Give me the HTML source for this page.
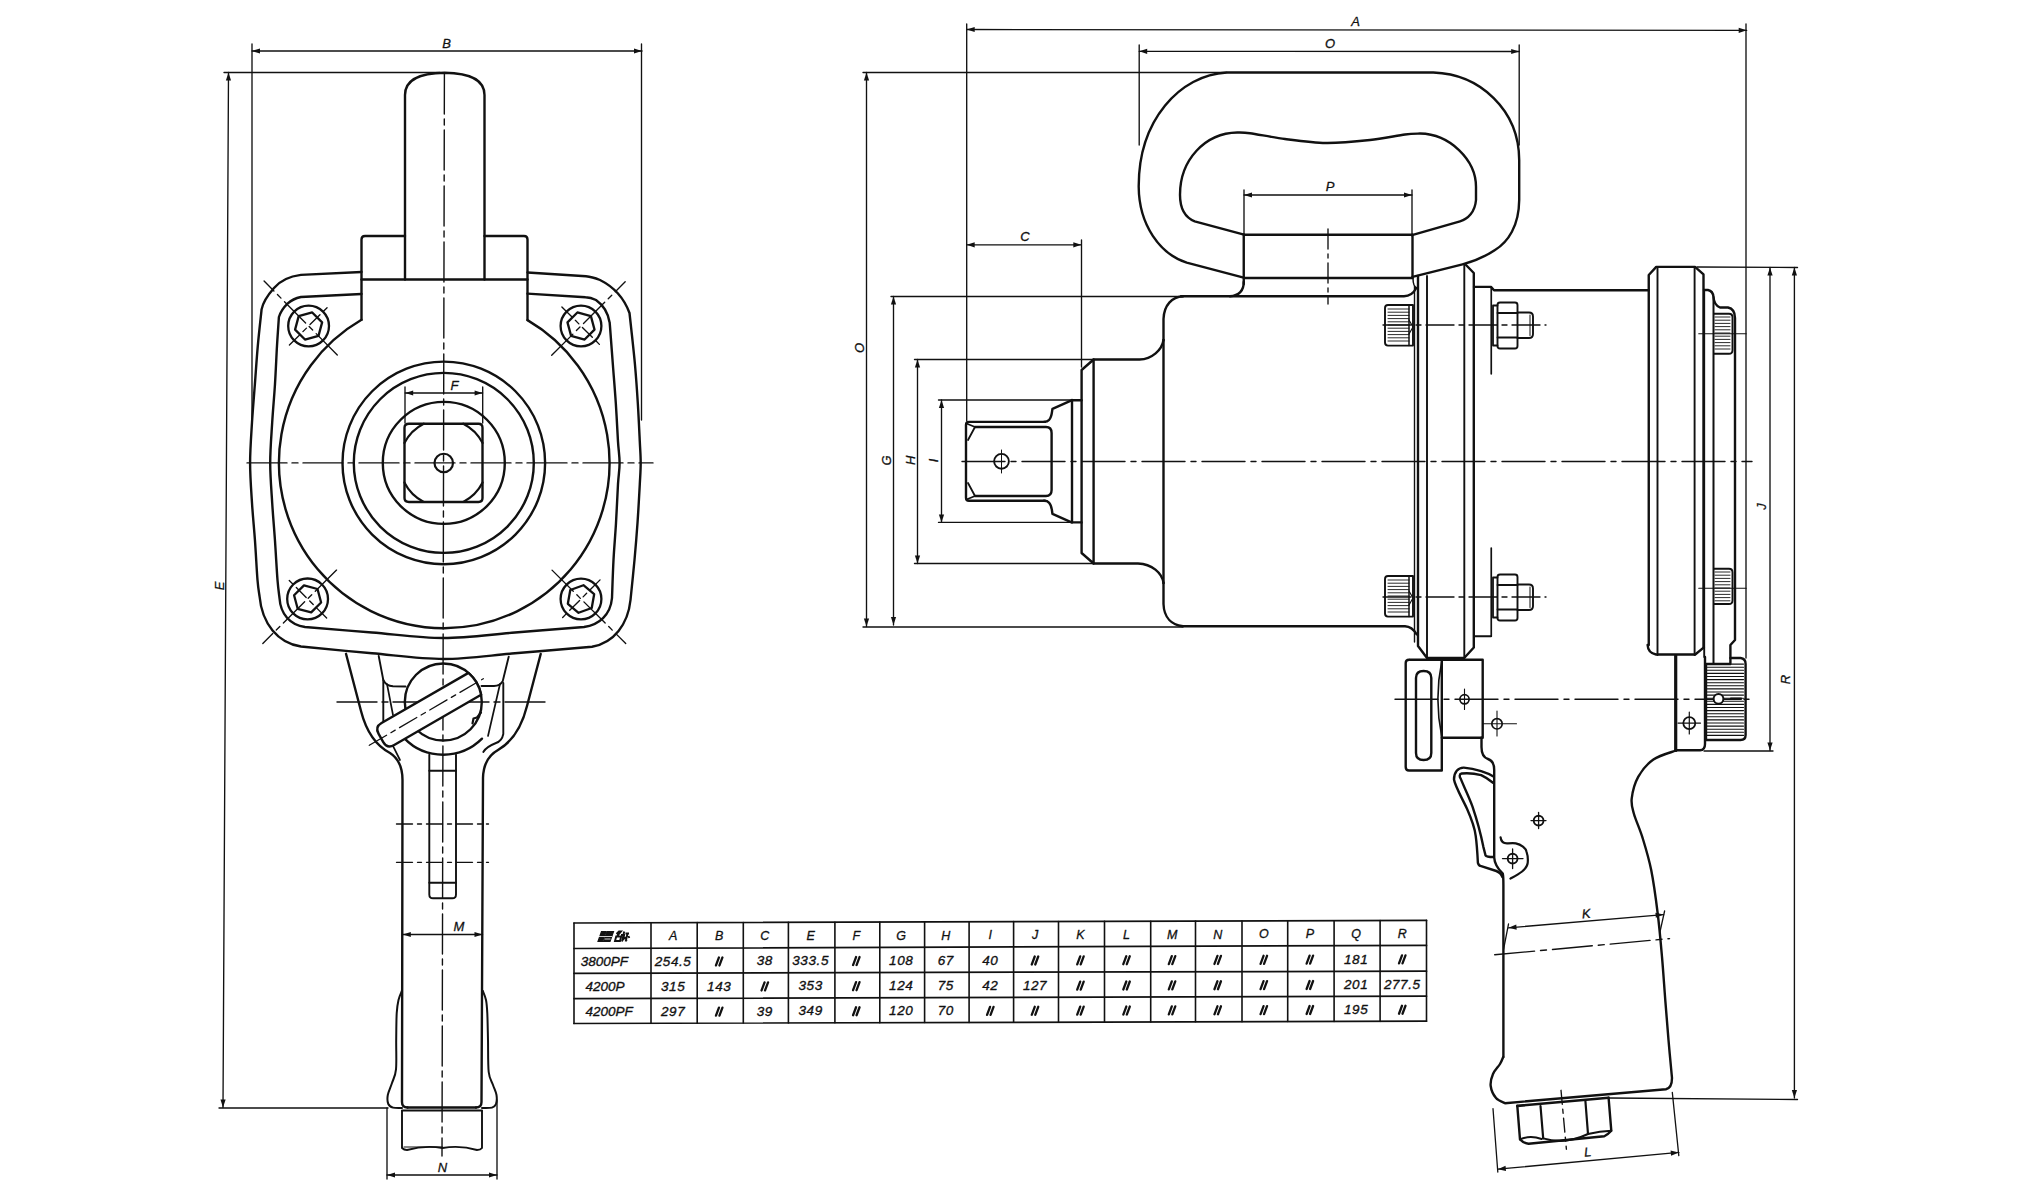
<!DOCTYPE html>
<html><head><meta charset="utf-8"><style>
html,body{margin:0;padding:0;background:#fff;width:2036px;height:1200px;overflow:hidden}
svg{display:block}
text{font-family:"Liberation Sans",sans-serif;font-style:italic;fill:#111}
</style></head><body>
<svg width="2036" height="1200" viewBox="0 0 2036 1200" fill="none" stroke="#111" stroke-linecap="round" stroke-linejoin="round">
<line x1="252" y1="51" x2="642" y2="51" stroke-width="1.35"/>
<path d="M642,51 L634,53.6 L634,48.4 Z" fill="#111" stroke="none"/>
<path d="M252,51 L260,48.4 L260,53.6 Z" fill="#111" stroke="none"/>
<text x="446.5" y="47.7" font-size="13" text-anchor="middle" stroke="#111" stroke-width="0.3">B</text>
<line x1="252" y1="44" x2="252" y2="425" stroke-width="1.35"/>
<line x1="641.5" y1="44" x2="641.5" y2="420" stroke-width="1.35"/>
<line x1="228.5" y1="72.5" x2="223" y2="1107.5" stroke-width="1.35"/>
<path d="M223,1107.5 L220.44,1099.49 L225.64,1099.51 Z" fill="#111" stroke="none"/>
<path d="M228.5,72.5 L231.06,80.51 L225.86,80.49 Z" fill="#111" stroke="none"/>
<line x1="224" y1="72.5" x2="440" y2="72.5" stroke-width="1.35"/>
<line x1="219" y1="1108" x2="388" y2="1108" stroke-width="1.35"/>
<text x="223.5" y="586" font-size="13" text-anchor="middle" transform="rotate(-90 223.5 586)" stroke="#111" stroke-width="0.3">E</text>
<path d="M405,279.5 V95 C405,80 418,73 444.6,72.7 C471,73 484.5,80 484.5,95 V279.5" stroke-width="2.4"/>
<path d="M405,236 H365 Q361.5,236 361.5,239.5 V319.8" stroke-width="2.4"/>
<path d="M484.5,236 H524 Q527.5,236 527.5,239.5 V320.1" stroke-width="2.4"/>
<line x1="361.5" y1="279.5" x2="527.5" y2="279.5" stroke-width="2.4"/>
<path d="M361.5,272 L300.9,274.9 C288,276.5 280,281 274,288 C267,296 263,302 261.6,309.4 C260.97,315.47 258.92,333.37 257.8,345.8 C256.68,358.23 255.87,371.23 254.9,384 C253.93,396.77 252.8,409.25 252,422.4 C251.2,435.55 250.1,449.47 250.1,462.9 C250.1,476.33 251.18,489.98 252,503 C252.82,516.02 254.08,528.17 255,541 C255.92,553.83 256.75,570.83 257.5,580 C258.25,589.17 259.17,593.33 259.5,596 C262,624 278,643 301,646.5 C312.83,647.63 348.25,651.22 372,653.3 C395.75,655.38 419.67,659 443.5,659 C467.33,659 490.25,655.35 515,653.3 C539.75,651.25 579.17,647.8 592,646.7 C614,643 628,624 630.5,600 C631.17,593.33 633.33,572.83 634.5,560 C635.67,547.17 636.62,535.67 637.5,523 C638.38,510.33 639.27,494.02 639.8,484 C640.33,473.98 640.7,469.97 640.7,462.9 C640.7,455.83 640.28,451.58 639.8,441.6 C639.32,431.62 638.6,415.77 637.8,403 C637,390.23 636.13,377.73 635,365 C633.87,352.27 631.92,335.27 631,326.6 C630.08,317.93 629.75,315.27 629.5,313 C624,298 614,287 600,280 C594,277.5 590,276.5 586,276.2 L527.5,272.5" stroke-width="2.4"/>
<path d="M361.5,294 L300.9,297 C294,298.5 291,300.5 287.5,303.6 C283,308 280.5,312 278.9,317 C278.58,321.8 277.65,334.63 277,345.8 C276.35,356.97 275.8,371.23 275,384 C274.2,396.77 273,409.25 272.2,422.4 C271.4,435.55 270.2,449.47 270.2,462.9 C270.2,476.33 271.4,489.98 272.2,503 C273,516.02 274.12,528.17 275,541 C275.88,553.83 276.75,570.5 277.5,580 C278.25,589.5 279.17,595 279.5,598 C280.5,614 290,625 305,627 C316.17,627.92 348.92,630.67 372,632.5 C395.08,634.33 419.67,638 443.5,638 C467.33,638 491.58,634.33 515,632.5 C538.42,630.67 572.5,627.92 584,627 C599,625 610.5,615 612,598 C612.25,591.67 612.83,572.5 613.5,560 C614.17,547.5 615.25,535.67 616,523 C616.75,510.33 617.4,494.02 618,484 C618.6,473.98 619.6,469.97 619.6,462.9 C619.6,455.83 618.63,451.58 618,441.6 C617.37,431.62 616.65,415.77 615.8,403 C614.95,390.23 613.87,377.73 612.9,365 C611.93,352.27 610.57,333.77 610,326.6 C609.43,319.43 609.58,322.77 609.5,322 C608,313 603,305 596,300 C592,298 589,297.3 585.5,297.2 L527.5,293.6" stroke-width="2.4"/>
<path d="M361.5,319.8 A165.3,165.3 0 1 0 527.5,320.1" stroke-width="2.4"/>
<circle cx="443.8" cy="462.9" r="101.3" stroke-width="2.4"/>
<circle cx="443.8" cy="462.9" r="90" stroke-width="2.4"/>
<circle cx="443.8" cy="462.9" r="61" stroke-width="2.4"/>
<path d="M409,423.7 H478.5 Q482.5,423.7 482.5,427.7 V498 Q482.5,502 478.5,502 H409 Q404.5,502 404.5,498 V427.7 Q404.5,423.7 409,423.7 Z" stroke-width="2.4"/>
<path d="M404.4,443.11 A43.8,43.8 0 0 1 423.76,423.75" stroke-width="2.2"/>
<path d="M404.4,482.59 A43.8,43.8 0 0 0 423.76,501.95" stroke-width="2.2"/>
<path d="M482.6,443.11 A43.8,43.8 0 0 0 463.24,423.75" stroke-width="2.2"/>
<path d="M482.6,482.59 A43.8,43.8 0 0 1 463.24,501.95" stroke-width="2.2"/>
<circle cx="443.75" cy="463" r="9.25" stroke-width="2.2"/>
<line x1="405.2" y1="393" x2="482.6" y2="393" stroke-width="1.35"/>
<path d="M482.6,393 L474.6,395.6 L474.6,390.4 Z" fill="#111" stroke="none"/>
<path d="M405.2,393 L413.2,390.4 L413.2,395.6 Z" fill="#111" stroke="none"/>
<line x1="405" y1="387" x2="405" y2="423" stroke-width="1.35"/>
<line x1="482.7" y1="387" x2="482.7" y2="423" stroke-width="1.35"/>
<text x="454.6" y="390" font-size="13" text-anchor="middle" stroke="#111" stroke-width="0.3">F</text>
<circle cx="308.6" cy="326" r="20.4" stroke-width="2.3"/>
<path d="M318.5,335.9 L304.98,339.52 L295.08,329.62 L298.7,316.1 L312.22,312.48 L322.12,322.38 Z" stroke-width="2.3"/>
<line x1="337.29" y1="354.95" x2="264.08" y2="281.09" stroke-width="1.35" stroke-dasharray="30 5 5 5"/>
<line x1="289.42" y1="345.01" x2="327.78" y2="306.99" stroke-width="1.35" stroke-dasharray="14 5 5 5"/>
<circle cx="581" cy="326" r="20.4" stroke-width="2.3"/>
<path d="M594.52,329.62 L584.62,339.52 L571.1,335.9 L567.48,322.38 L577.38,312.48 L590.9,316.1 Z" stroke-width="2.3"/>
<line x1="551.7" y1="355.34" x2="625.19" y2="281.75" stroke-width="1.35" stroke-dasharray="30 5 5 5"/>
<line x1="561.89" y1="306.92" x2="600.11" y2="345.08" stroke-width="1.35" stroke-dasharray="14 5 5 5"/>
<circle cx="307.6" cy="598.9" r="20.4" stroke-width="2.3"/>
<path d="M321.12,602.52 L311.22,612.42 L297.7,608.8 L294.08,595.28 L303.98,585.38 L317.5,589 Z" stroke-width="2.3"/>
<line x1="336.54" y1="570.1" x2="262.82" y2="643.45" stroke-width="1.35" stroke-dasharray="30 5 5 5"/>
<line x1="326.64" y1="618.04" x2="288.56" y2="579.76" stroke-width="1.35" stroke-dasharray="14 5 5 5"/>
<circle cx="581" cy="599" r="20.4" stroke-width="2.3"/>
<path d="M591.72,608 L578.57,612.79 L567.84,603.79 L570.28,590 L583.43,585.21 L594.16,594.21 Z" stroke-width="2.3"/>
<line x1="552.02" y1="570.14" x2="625.72" y2="643.52" stroke-width="1.35" stroke-dasharray="30 5 5 5"/>
<line x1="600.05" y1="579.87" x2="561.95" y2="618.13" stroke-width="1.35" stroke-dasharray="14 5 5 5"/>
<line x1="444.4" y1="74" x2="442" y2="1156" stroke-width="1.4" stroke-dasharray="40 5 6 5"/>
<line x1="247" y1="462.9" x2="653" y2="462.9" stroke-width="1.4" stroke-dasharray="40 5 6 5"/>
<line x1="337" y1="702" x2="545" y2="702" stroke-width="1.4" stroke-dasharray="40 5 6 5"/>
<line x1="396.5" y1="824" x2="488.5" y2="824" stroke-width="1.35" stroke-dasharray="16 5 4 5"/>
<line x1="396.5" y1="862.3" x2="488.5" y2="862.3" stroke-width="1.35" stroke-dasharray="16 5 4 5"/>
<path d="M346,653.8 L361,711 Q369,742 390,753 Q402.5,761 402.5,780 L402,1102 Q402,1107.5 407.5,1107.5" stroke-width="2.4"/>
<path d="M540.7,654 L527,706 Q519,738 498,750 Q483.5,758 483,778 L481.5,1102 Q481.5,1107.5 476,1107.5" stroke-width="2.4"/>
<line x1="407.5" y1="1107.5" x2="476" y2="1107.5" stroke-width="2.4"/>
<path d="M378.7,656 L383.3,680 Q386,686 393,686.3 L405.5,686.5" stroke-width="1.9"/>
<line x1="383.3" y1="680" x2="383.3" y2="722" stroke-width="1.9"/>
<line x1="387" y1="684" x2="393" y2="715" stroke-width="1.7"/>
<path d="M508.7,656.7 L502.7,681.3 Q500,686 494,686 L481.5,686" stroke-width="1.9"/>
<path d="M503.3,683 V734 Q502,741 496,743 Q486,747 483.3,752" stroke-width="1.9"/>
<line x1="500" y1="684" x2="488" y2="736" stroke-width="1.7"/>
<path d="M392.7,745.3 L400,760" stroke-width="1.7"/>
<circle cx="443.3" cy="702" r="38.5" stroke-width="2.4"/>
<path d="M404.7,738.7 Q420,754.7 443.3,754.7 Q466,754.7 482,738.7" stroke-width="2.4"/>
<path d="M481,712.5 L477,717.5 L473.5,718.5 L472.5,723.5" stroke-width="2.2"/>
<g transform="translate(443.3,702) rotate(-30)"><path d="M36.36,-12.65 H-64 Q-72,-12.65 -72,-4.65 V4.65 Q-72,12.65 -64,12.65 H36.36 A38.5,38.5 0 0 0 36.36,-12.65 Z" stroke-width="2.4" fill="#fff"/></g>
<line x1="369.3" y1="745.3" x2="483.3" y2="678.7" stroke-width="1.3" stroke-dasharray="20 5 5 5"/>
<path d="M429.3,754.7 V894.5 Q429.3,898.3 433,898.3 H452.3 Q456,898.3 456,894.5 V754.7" stroke-width="1.9"/>
<line x1="429.3" y1="770.7" x2="456" y2="770.7" stroke-width="1.9"/>
<line x1="429.3" y1="882.7" x2="456" y2="882.7" stroke-width="1.9"/>
<line x1="402.8" y1="934.5" x2="482.5" y2="934.5" stroke-width="1.35"/>
<path d="M482.5,934.5 L474.5,937.1 L474.5,931.9 Z" fill="#111" stroke="none"/>
<path d="M402.8,934.5 L410.8,931.9 L410.8,937.1 Z" fill="#111" stroke="none"/>
<text x="459" y="931" font-size="13" text-anchor="middle" stroke="#111" stroke-width="0.3">M</text>
<path d="M402,990.7 C401.42,992.25 399.38,996.23 398.5,1000 C397.62,1003.77 397.08,1006.63 396.7,1013.3 C396.32,1019.97 396.32,1030.67 396.2,1040 C396.08,1049.33 396.7,1062.13 396,1069.3 C395.3,1076.47 393.37,1078.72 392,1083 C390.63,1087.28 388.42,1091.5 387.8,1095 C387.18,1098.5 387.43,1101.9 388.3,1104 C389.17,1106.1 390.72,1106.93 393,1107.6 C395.28,1108.27 400.5,1107.93 402,1108" stroke-width="2"/>
<path d="M482.7,990.7 C483.25,992.25 485.23,996.23 486,1000 C486.77,1003.77 486.97,1006.63 487.3,1013.3 C487.63,1019.97 487.77,1030.22 488,1040 C488.23,1049.78 487.87,1064.5 488.7,1072 C489.53,1079.5 491.7,1081.17 493,1085 C494.3,1088.83 496,1091.83 496.5,1095 C497,1098.17 496.75,1101.9 496,1104 C495.25,1106.1 494.33,1106.93 492,1107.6 C489.67,1108.27 483.67,1107.93 482,1108" stroke-width="2"/>
<path d="M402,1111 V1148 Q404,1150 407,1150 Q425,1145 442.5,1148 Q460,1145 477,1150 Q480.5,1150 482,1148 V1111" stroke-width="1.9"/>
<line x1="402" y1="1110.5" x2="482" y2="1110.5" stroke-width="1.9"/>
<line x1="404" y1="1147" x2="442.5" y2="1147" stroke-width="1"/>
<line x1="387" y1="1175" x2="497" y2="1175" stroke-width="1.35"/>
<path d="M497,1175 L489,1177.6 L489,1172.4 Z" fill="#111" stroke="none"/>
<path d="M387,1175 L395,1172.4 L395,1177.6 Z" fill="#111" stroke="none"/>
<line x1="387" y1="1108" x2="387" y2="1179" stroke-width="1.35"/>
<line x1="497" y1="1100" x2="497" y2="1179" stroke-width="1.35"/>
<text x="442.5" y="1172" font-size="13" text-anchor="middle" stroke="#111" stroke-width="0.3">N</text>
<line x1="574" y1="923" x2="1426.5" y2="920.4" stroke-width="1.7"/>
<line x1="574" y1="948.5" x2="1426.5" y2="945.4" stroke-width="1.7"/>
<line x1="574" y1="973.3" x2="1426.5" y2="971.2" stroke-width="1.7"/>
<line x1="574" y1="998.6" x2="1426.5" y2="996.2" stroke-width="1.7"/>
<line x1="574" y1="1023.5" x2="1426.5" y2="1021.2" stroke-width="1.7"/>
<line x1="574" y1="923" x2="574" y2="1023.5" stroke-width="1.6"/>
<line x1="651" y1="922.77" x2="651" y2="1023.29" stroke-width="1.6"/>
<line x1="697.2" y1="922.62" x2="697.2" y2="1023.17" stroke-width="1.6"/>
<line x1="743.3" y1="922.48" x2="743.3" y2="1023.04" stroke-width="1.6"/>
<line x1="788.4" y1="922.35" x2="788.4" y2="1022.92" stroke-width="1.6"/>
<line x1="834.9" y1="922.2" x2="834.9" y2="1022.8" stroke-width="1.6"/>
<line x1="879.8" y1="922.07" x2="879.8" y2="1022.67" stroke-width="1.6"/>
<line x1="924.6" y1="921.93" x2="924.6" y2="1022.55" stroke-width="1.6"/>
<line x1="969.1" y1="921.8" x2="969.1" y2="1022.43" stroke-width="1.6"/>
<line x1="1013.6" y1="921.66" x2="1013.6" y2="1022.31" stroke-width="1.6"/>
<line x1="1058.5" y1="921.52" x2="1058.5" y2="1022.19" stroke-width="1.6"/>
<line x1="1104.5" y1="921.38" x2="1104.5" y2="1022.07" stroke-width="1.6"/>
<line x1="1150.7" y1="921.24" x2="1150.7" y2="1021.94" stroke-width="1.6"/>
<line x1="1195.5" y1="921.1" x2="1195.5" y2="1021.82" stroke-width="1.6"/>
<line x1="1242" y1="920.96" x2="1242" y2="1021.7" stroke-width="1.6"/>
<line x1="1287.7" y1="920.82" x2="1287.7" y2="1021.57" stroke-width="1.6"/>
<line x1="1334.1" y1="920.68" x2="1334.1" y2="1021.45" stroke-width="1.6"/>
<line x1="1380.1" y1="920.54" x2="1380.1" y2="1021.33" stroke-width="1.6"/>
<line x1="1426.5" y1="920.4" x2="1426.5" y2="1021.2" stroke-width="1.6"/>
<text x="673.1" y="940.42" font-size="12.5" text-anchor="middle" stroke="#111" stroke-width="0.3">A</text>
<text x="719.25" y="940.26" font-size="12.5" text-anchor="middle" stroke="#111" stroke-width="0.3">B</text>
<text x="764.85" y="940.11" font-size="12.5" text-anchor="middle" stroke="#111" stroke-width="0.3">C</text>
<text x="810.65" y="939.96" font-size="12.5" text-anchor="middle" stroke="#111" stroke-width="0.3">E</text>
<text x="856.35" y="939.81" font-size="12.5" text-anchor="middle" stroke="#111" stroke-width="0.3">F</text>
<text x="901.2" y="939.66" font-size="12.5" text-anchor="middle" stroke="#111" stroke-width="0.3">G</text>
<text x="945.85" y="939.51" font-size="12.5" text-anchor="middle" stroke="#111" stroke-width="0.3">H</text>
<text x="990.35" y="939.36" font-size="12.5" text-anchor="middle" stroke="#111" stroke-width="0.3">I</text>
<text x="1035.05" y="939.21" font-size="12.5" text-anchor="middle" stroke="#111" stroke-width="0.3">J</text>
<text x="1080.5" y="939.06" font-size="12.5" text-anchor="middle" stroke="#111" stroke-width="0.3">K</text>
<text x="1126.6" y="938.9" font-size="12.5" text-anchor="middle" stroke="#111" stroke-width="0.3">L</text>
<text x="1172.1" y="938.75" font-size="12.5" text-anchor="middle" stroke="#111" stroke-width="0.3">M</text>
<text x="1217.75" y="938.6" font-size="12.5" text-anchor="middle" stroke="#111" stroke-width="0.3">N</text>
<text x="1263.85" y="938.44" font-size="12.5" text-anchor="middle" stroke="#111" stroke-width="0.3">O</text>
<text x="1309.9" y="938.29" font-size="12.5" text-anchor="middle" stroke="#111" stroke-width="0.3">P</text>
<text x="1356.1" y="938.14" font-size="12.5" text-anchor="middle" stroke="#111" stroke-width="0.3">Q</text>
<text x="1402.3" y="937.98" font-size="12.5" text-anchor="middle" stroke="#111" stroke-width="0.3">R</text>
<text x="580.7" y="965.79" font-size="13.5" text-anchor="start" stroke="#111" stroke-width="0.35">3800PF</text>
<text x="673.1" y="965.6" font-size="13.5" text-anchor="middle" letter-spacing="0.6" stroke="#111" stroke-width="0.35">254.5</text>
<path d="M715.95,965.46 l3,-8 M719.45,965.46 l3,-8" stroke-width="2.3"/>
<text x="764.85" y="965.32" font-size="13.5" text-anchor="middle" letter-spacing="0.6" stroke="#111" stroke-width="0.35">38</text>
<text x="810.65" y="965.18" font-size="13.5" text-anchor="middle" letter-spacing="0.6" stroke="#111" stroke-width="0.35">333.5</text>
<path d="M853.05,965.04 l3,-8 M856.55,965.04 l3,-8" stroke-width="2.3"/>
<text x="901.2" y="964.9" font-size="13.5" text-anchor="middle" letter-spacing="0.6" stroke="#111" stroke-width="0.35">108</text>
<text x="945.85" y="964.77" font-size="13.5" text-anchor="middle" letter-spacing="0.6" stroke="#111" stroke-width="0.35">67</text>
<text x="990.35" y="964.63" font-size="13.5" text-anchor="middle" letter-spacing="0.6" stroke="#111" stroke-width="0.35">40</text>
<path d="M1031.75,964.49 l3,-8 M1035.25,964.49 l3,-8" stroke-width="2.3"/>
<path d="M1077.2,964.36 l3,-8 M1080.7,964.36 l3,-8" stroke-width="2.3"/>
<path d="M1123.3,964.21 l3,-8 M1126.8,964.21 l3,-8" stroke-width="2.3"/>
<path d="M1168.8,964.08 l3,-8 M1172.3,964.08 l3,-8" stroke-width="2.3"/>
<path d="M1214.45,963.94 l3,-8 M1217.95,963.94 l3,-8" stroke-width="2.3"/>
<path d="M1260.55,963.8 l3,-8 M1264.05,963.8 l3,-8" stroke-width="2.3"/>
<path d="M1306.6,963.66 l3,-8 M1310.1,963.66 l3,-8" stroke-width="2.3"/>
<text x="1356.1" y="963.51" font-size="13.5" text-anchor="middle" letter-spacing="0.6" stroke="#111" stroke-width="0.35">181</text>
<path d="M1399,963.37 l3,-8 M1402.5,963.37 l3,-8" stroke-width="2.3"/>
<text x="585.4" y="990.85" font-size="13.5" text-anchor="start" stroke="#111" stroke-width="0.35">4200P</text>
<text x="673.1" y="990.69" font-size="13.5" text-anchor="middle" letter-spacing="0.6" stroke="#111" stroke-width="0.35">315</text>
<text x="719.25" y="990.57" font-size="13.5" text-anchor="middle" letter-spacing="0.6" stroke="#111" stroke-width="0.35">143</text>
<path d="M761.55,990.45 l3,-8 M765.05,990.45 l3,-8" stroke-width="2.3"/>
<text x="810.65" y="990.33" font-size="13.5" text-anchor="middle" letter-spacing="0.6" stroke="#111" stroke-width="0.35">353</text>
<path d="M853.05,990.2 l3,-8 M856.55,990.2 l3,-8" stroke-width="2.3"/>
<text x="901.2" y="990.09" font-size="13.5" text-anchor="middle" letter-spacing="0.6" stroke="#111" stroke-width="0.35">124</text>
<text x="945.85" y="989.97" font-size="13.5" text-anchor="middle" letter-spacing="0.6" stroke="#111" stroke-width="0.35">75</text>
<text x="990.35" y="989.85" font-size="13.5" text-anchor="middle" letter-spacing="0.6" stroke="#111" stroke-width="0.35">42</text>
<text x="1035.05" y="989.73" font-size="13.5" text-anchor="middle" letter-spacing="0.6" stroke="#111" stroke-width="0.35">127</text>
<path d="M1077.2,989.61 l3,-8 M1080.7,989.61 l3,-8" stroke-width="2.3"/>
<path d="M1123.3,989.49 l3,-8 M1126.8,989.49 l3,-8" stroke-width="2.3"/>
<path d="M1168.8,989.37 l3,-8 M1172.3,989.37 l3,-8" stroke-width="2.3"/>
<path d="M1214.45,989.25 l3,-8 M1217.95,989.25 l3,-8" stroke-width="2.3"/>
<path d="M1260.55,989.13 l3,-8 M1264.05,989.13 l3,-8" stroke-width="2.3"/>
<path d="M1306.6,989.01 l3,-8 M1310.1,989.01 l3,-8" stroke-width="2.3"/>
<text x="1356.1" y="988.89" font-size="13.5" text-anchor="middle" letter-spacing="0.6" stroke="#111" stroke-width="0.35">201</text>
<text x="1402.3" y="988.76" font-size="13.5" text-anchor="middle" letter-spacing="0.6" stroke="#111" stroke-width="0.35">277.5</text>
<text x="585.4" y="1015.95" font-size="13.5" text-anchor="start" stroke="#111" stroke-width="0.35">4200PF</text>
<text x="673.1" y="1015.78" font-size="13.5" text-anchor="middle" letter-spacing="0.6" stroke="#111" stroke-width="0.35">297</text>
<path d="M715.95,1015.65 l3,-8 M719.45,1015.65 l3,-8" stroke-width="2.3"/>
<text x="764.85" y="1015.52" font-size="13.5" text-anchor="middle" letter-spacing="0.6" stroke="#111" stroke-width="0.35">39</text>
<text x="810.65" y="1015.4" font-size="13.5" text-anchor="middle" letter-spacing="0.6" stroke="#111" stroke-width="0.35">349</text>
<path d="M853.05,1015.27 l3,-8 M856.55,1015.27 l3,-8" stroke-width="2.3"/>
<text x="901.2" y="1015.15" font-size="13.5" text-anchor="middle" letter-spacing="0.6" stroke="#111" stroke-width="0.35">120</text>
<text x="945.85" y="1015.02" font-size="13.5" text-anchor="middle" letter-spacing="0.6" stroke="#111" stroke-width="0.35">70</text>
<path d="M987.05,1014.9 l3,-8 M990.55,1014.9 l3,-8" stroke-width="2.3"/>
<path d="M1031.75,1014.78 l3,-8 M1035.25,1014.78 l3,-8" stroke-width="2.3"/>
<path d="M1077.2,1014.65 l3,-8 M1080.7,1014.65 l3,-8" stroke-width="2.3"/>
<path d="M1123.3,1014.53 l3,-8 M1126.8,1014.53 l3,-8" stroke-width="2.3"/>
<path d="M1168.8,1014.4 l3,-8 M1172.3,1014.4 l3,-8" stroke-width="2.3"/>
<path d="M1214.45,1014.28 l3,-8 M1217.95,1014.28 l3,-8" stroke-width="2.3"/>
<path d="M1260.55,1014.15 l3,-8 M1264.05,1014.15 l3,-8" stroke-width="2.3"/>
<path d="M1306.6,1014.02 l3,-8 M1310.1,1014.02 l3,-8" stroke-width="2.3"/>
<text x="1356.1" y="1013.89" font-size="13.5" text-anchor="middle" letter-spacing="0.6" stroke="#111" stroke-width="0.35">195</text>
<path d="M1399,1013.77 l3,-8 M1402.5,1013.77 l3,-8" stroke-width="2.3"/>
<g stroke-width="1.9" stroke-linecap="butt" stroke-linejoin="miter"><path d="M598,941.5 L601.5,931.5 H606 L602.5,941.5 Z" fill="#111" stroke-width="1.2"/><path d="M603.5,941.5 L607,931.5 H613.5 L610,941.5 Z" fill="#111" stroke-width="1.2"/><path d="M599,936.5 h13 M604.5,939 h6" stroke="#fff" stroke-width="0.8"/><path d="M616.5,934 l2.5,-2.5 h2 l-5,6 M615,941 l1.2,-4.5 h5 l-1.2,4.5 z"/><path d="M622,941.5 l2.2,-10 M621,935 h4 M624.5,938 l-2,2 M625.5,937 l1,4 M625.5,933.5 h3.5 M627.5,933.5 l-1.8,8 M625,936.5 l-1,1.5 M628.5,936 l0.8,2"/></g>
<line x1="966.7" y1="29.5" x2="1746.7" y2="30.3" stroke-width="1.35"/>
<path d="M1746.7,30.3 L1738.7,32.89 L1738.7,27.69 Z" fill="#111" stroke="none"/>
<path d="M966.7,29.5 L974.7,26.91 L974.7,32.11 Z" fill="#111" stroke="none"/>
<text x="1355.5" y="26" font-size="13" text-anchor="middle" stroke="#111" stroke-width="0.3">A</text>
<line x1="966.7" y1="24" x2="966.7" y2="421" stroke-width="1.35"/>
<line x1="1746" y1="24" x2="1746" y2="658" stroke-width="1.35"/>
<line x1="1139.2" y1="51.3" x2="1519.2" y2="51.5" stroke-width="1.35"/>
<path d="M1519.2,51.5 L1511.2,54.1 L1511.2,48.9 Z" fill="#111" stroke="none"/>
<path d="M1139.2,51.3 L1147.2,48.7 L1147.2,53.9 Z" fill="#111" stroke="none"/>
<text x="1330" y="48" font-size="13" text-anchor="middle" stroke="#111" stroke-width="0.3">O</text>
<line x1="1139.2" y1="45" x2="1139.2" y2="145" stroke-width="1.35"/>
<line x1="1519.2" y1="45" x2="1519.2" y2="145" stroke-width="1.35"/>
<line x1="1244" y1="195" x2="1412" y2="195" stroke-width="1.35"/>
<path d="M1412,195 L1404,197.6 L1404,192.4 Z" fill="#111" stroke="none"/>
<path d="M1244,195 L1252,192.4 L1252,197.6 Z" fill="#111" stroke="none"/>
<text x="1330" y="191.2" font-size="13" text-anchor="middle" stroke="#111" stroke-width="0.3">P</text>
<line x1="1244" y1="190" x2="1244" y2="235" stroke-width="1.35"/>
<line x1="1412" y1="190" x2="1412" y2="235" stroke-width="1.35"/>
<line x1="966.7" y1="244.8" x2="1081.3" y2="244.8" stroke-width="1.35"/>
<path d="M1081.3,244.8 L1073.3,247.4 L1073.3,242.2 Z" fill="#111" stroke="none"/>
<path d="M966.7,244.8 L974.7,242.2 L974.7,247.4 Z" fill="#111" stroke="none"/>
<text x="1025" y="241" font-size="13" text-anchor="middle" stroke="#111" stroke-width="0.3">C</text>
<line x1="1081.5" y1="240" x2="1081.5" y2="367" stroke-width="1.35"/>
<line x1="866.5" y1="72.5" x2="866.5" y2="626.5" stroke-width="1.35"/>
<path d="M866.5,626.5 L863.9,618.5 L869.1,618.5 Z" fill="#111" stroke="none"/>
<path d="M866.5,72.5 L869.1,80.5 L863.9,80.5 Z" fill="#111" stroke="none"/>
<line x1="863" y1="72.5" x2="1227" y2="72.5" stroke-width="1.35"/>
<line x1="863" y1="627" x2="1183" y2="627" stroke-width="1.35"/>
<text x="864.2" y="348" font-size="13" text-anchor="middle" transform="rotate(-90 864.2 348)" stroke="#111" stroke-width="0.3">O</text>
<line x1="893.5" y1="296.5" x2="893.5" y2="625" stroke-width="1.35"/>
<path d="M893.5,625 L890.9,617 L896.1,617 Z" fill="#111" stroke="none"/>
<path d="M893.5,296.5 L896.1,304.5 L890.9,304.5 Z" fill="#111" stroke="none"/>
<line x1="891" y1="296.5" x2="1183" y2="296.5" stroke-width="1.35"/>
<text x="891.2" y="460.3" font-size="13" text-anchor="middle" transform="rotate(-90 891.2 460.3)" stroke="#111" stroke-width="0.3">G</text>
<line x1="917.5" y1="359.5" x2="917.5" y2="563.5" stroke-width="1.35"/>
<path d="M917.5,563.5 L914.9,555.5 L920.1,555.5 Z" fill="#111" stroke="none"/>
<path d="M917.5,359.5 L920.1,367.5 L914.9,367.5 Z" fill="#111" stroke="none"/>
<line x1="914.5" y1="359.5" x2="1093.5" y2="359.5" stroke-width="1.35"/>
<line x1="914.5" y1="563.5" x2="1093.5" y2="563.5" stroke-width="1.35"/>
<text x="915.3" y="460.4" font-size="13" text-anchor="middle" transform="rotate(-90 915.3 460.4)" stroke="#111" stroke-width="0.3">H</text>
<line x1="941.5" y1="400" x2="941.5" y2="522.4" stroke-width="1.35"/>
<path d="M941.5,522.4 L938.9,514.4 L944.1,514.4 Z" fill="#111" stroke="none"/>
<path d="M941.5,400 L944.1,408 L938.9,408 Z" fill="#111" stroke="none"/>
<line x1="938.5" y1="400" x2="1072" y2="400" stroke-width="1.35"/>
<line x1="938.5" y1="522.4" x2="1072" y2="522.4" stroke-width="1.35"/>
<text x="938" y="460.4" font-size="13" text-anchor="middle" transform="rotate(-90 938 460.4)" stroke="#111" stroke-width="0.3">I</text>
<line x1="1770" y1="267.5" x2="1770" y2="750.5" stroke-width="1.35"/>
<path d="M1770,750.5 L1767.4,742.5 L1772.6,742.5 Z" fill="#111" stroke="none"/>
<path d="M1770,267.5 L1772.6,275.5 L1767.4,275.5 Z" fill="#111" stroke="none"/>
<line x1="1697" y1="267" x2="1797.5" y2="267.5" stroke-width="1.35"/>
<line x1="1704" y1="751" x2="1773" y2="751" stroke-width="1.35"/>
<text x="1765.7" y="506.5" font-size="13" text-anchor="middle" transform="rotate(-90 1765.7 506.5)" stroke="#111" stroke-width="0.3">J</text>
<line x1="1794.4" y1="267.5" x2="1794.4" y2="1098" stroke-width="1.35"/>
<path d="M1794.4,1098 L1791.8,1090 L1797,1090 Z" fill="#111" stroke="none"/>
<path d="M1794.4,267.5 L1797,275.5 L1791.8,275.5 Z" fill="#111" stroke="none"/>
<line x1="1608.6" y1="1098" x2="1797.5" y2="1099.5" stroke-width="1.35"/>
<text x="1790" y="679.6" font-size="13" text-anchor="middle" transform="rotate(-90 1790 679.6)" stroke="#111" stroke-width="0.3">R</text>
<path d="M1242.7,277.3 L1186.7,262.7 C1160,254 1139,225 1138.7,186.7 C1138.5,120 1180,75 1226.7,72.5 L1433.3,72.5 C1480,74 1519,110 1519.2,160 L1519.2,200 C1519,226 1508,242 1495,250 C1486,256 1475,261 1462.5,264.4 L1412.5,276.9" stroke-width="2.4"/>
<path d="M1244,234.7 L1194.7,221.3 C1184,217 1180,206 1180,194.7 C1180,160 1205,133 1237.3,132.5 C1239.2,132.6 1242.85,132.22 1250,133.2 C1257.15,134.17 1273.6,137.53 1285,139 C1296.4,140.47 1313.25,142.85 1326,143 C1338.75,143.15 1358.15,141.28 1370,140 C1381.85,138.72 1397.5,135.47 1405,134.5 C1412.5,133.53 1417.75,133.65 1420,133.5 C1450,134 1476,160 1476,186.7 L1476,200 C1475,212 1468,219 1460,221.3 L1412,235.2" stroke-width="2.4"/>
<line x1="1244" y1="234.7" x2="1412" y2="234.7" stroke-width="2.4"/>
<line x1="1244" y1="278" x2="1412" y2="278" stroke-width="2.4"/>
<line x1="1243.75" y1="234.7" x2="1243.75" y2="284" stroke-width="2.4"/>
<path d="M1243.75,282 Q1243.75,295 1230,296.3" stroke-width="2.4"/>
<line x1="1412.5" y1="234.7" x2="1412.5" y2="278" stroke-width="2.4"/>
<line x1="1328" y1="229" x2="1328" y2="304" stroke-width="1.35" stroke-dasharray="20 5 4 5"/>
<path d="M1181,296.3 H1404 Q1412,296 1416,288.5" stroke-width="2.4"/>
<path d="M1183,296.3 C1172,297 1164,305 1163.5,319 V340" stroke-width="2.4"/>
<path d="M1163.5,583 V604 C1164,618 1172,625 1183,626.2 H1405 Q1412,626.5 1416.7,634.3" stroke-width="2.4"/>
<line x1="1163.5" y1="340" x2="1163.5" y2="583" stroke-width="2.4"/>
<path d="M1093.6,359.5 H1139.5 C1152,359 1162,350 1163.5,340" stroke-width="2.4"/>
<path d="M1093.6,563.5 H1138 C1152,564 1162,573 1163.5,583" stroke-width="2.4"/>
<path d="M1093.6,359.5 L1081.6,370 V553 L1093.6,563.5 Z" stroke-width="2.4"/>
<line x1="1072" y1="400" x2="1072" y2="522.4" stroke-width="2.4"/>
<path d="M1081.6,400.3 H1071.5 L1052.5,408.8 C1051.8,412 1052,417 1049,420 Q1047.5,421.9 1044,421.9" stroke-width="2.4"/>
<path d="M1081.6,522.4 H1071.5 L1052.5,513.9 C1051.8,510.7 1052,505.7 1049,502.7 Q1047.5,500.8 1044,500.8" stroke-width="2.4"/>
<path d="M1045,421.9 H969 Q966,421.9 966,424.9 V497.8 Q966,500.8 969,500.8 H1045" stroke-width="2.4"/>
<path d="M975,427 H1046 Q1051.6,427 1051.6,433 V490 Q1051.6,496 1046,496 H975" stroke-width="2.4"/>
<path d="M966.5,423.5 L975,427 L968,440" stroke-width="1.8"/>
<path d="M966.5,499.5 L975,496 L968,483" stroke-width="1.8"/>
<circle cx="1001.5" cy="461.3" r="7.4" stroke-width="1.9"/>
<line x1="1001.5" y1="450" x2="1001.5" y2="473" stroke-width="1"/>
<line x1="962" y1="461.5" x2="1752" y2="461.5" stroke-width="1.4" stroke-dasharray="43 6 5 6"/>
<path d="M1418,276 V646 L1427,658 H1464.2 L1473.8,647.5 V273 L1466,265" stroke-width="2.4"/>
<line x1="1427" y1="276" x2="1427" y2="658" stroke-width="1.9"/>
<line x1="1464.3" y1="265" x2="1464.3" y2="658" stroke-width="1.9"/>
<line x1="1414.5" y1="286" x2="1414.5" y2="642" stroke-width="1.4"/>
<path d="M1413,278 Q1413,287 1417,288" stroke-width="1.5"/>
<path d="M1474,286.9 H1491 L1494,290.2 H1648.7" stroke-width="2.4"/>
<line x1="1491.25" y1="287.5" x2="1491.25" y2="373.8" stroke-width="1.7"/>
<line x1="1491.25" y1="548" x2="1491.25" y2="636.2" stroke-width="1.7"/>
<path d="M1474,636.2 H1491" stroke-width="1.9"/>
<path d="M1497.5,305.5 H1493 V345.5 H1497.5" stroke-width="1.8"/>
<path d="M1500,302.5 H1515 Q1517.5,302.5 1517.5,305 V346 Q1517.5,348.5 1515,348.5 H1500 Q1497.5,348.5 1497.5,346 V305 Q1497.5,302.5 1500,302.5 Z" stroke-width="1.9"/>
<line x1="1497.5" y1="313" x2="1517.5" y2="313" stroke-width="1.8"/>
<line x1="1497.5" y1="337.5" x2="1517.5" y2="337.5" stroke-width="1.8"/>
<path d="M1517.5,312.5 H1529 Q1533,312.5 1533,316.5 V334 Q1533,338 1529,338 H1517.5" stroke-width="1.9"/>
<line x1="1530" y1="315" x2="1530" y2="335.5" stroke-width="1"/>
<line x1="1383" y1="325" x2="1546" y2="325" stroke-width="1.35" stroke-dasharray="28 5 5 5"/>
<path d="M1497.5,577.5 H1493 V617.5 H1497.5" stroke-width="1.8"/>
<path d="M1500,574.5 H1515 Q1517.5,574.5 1517.5,577 V618 Q1517.5,620.5 1515,620.5 H1500 Q1497.5,620.5 1497.5,618 V577 Q1497.5,574.5 1500,574.5 Z" stroke-width="1.9"/>
<line x1="1497.5" y1="585" x2="1517.5" y2="585" stroke-width="1.8"/>
<line x1="1497.5" y1="609.5" x2="1517.5" y2="609.5" stroke-width="1.8"/>
<path d="M1517.5,584.5 H1529 Q1533,584.5 1533,588.5 V606 Q1533,610 1529,610 H1517.5" stroke-width="1.9"/>
<line x1="1530" y1="587" x2="1530" y2="607.5" stroke-width="1"/>
<line x1="1383" y1="597" x2="1546" y2="597" stroke-width="1.35" stroke-dasharray="28 5 5 5"/>
<path d="M1388,305 H1413 V345.6 H1388 Q1385,345.6 1385,342.6 V308 Q1385,305 1388,305 Z" stroke-width="1.9"/>
<line x1="1409" y1="305" x2="1409" y2="345.6" stroke-width="1.5"/>
<line x1="1388" y1="309" x2="1409" y2="309" stroke-width="0.9"/>
<line x1="1388" y1="312.2" x2="1409" y2="312.2" stroke-width="0.9"/>
<line x1="1388" y1="315.4" x2="1409" y2="315.4" stroke-width="0.9"/>
<line x1="1388" y1="318.6" x2="1409" y2="318.6" stroke-width="0.9"/>
<line x1="1388" y1="321.8" x2="1409" y2="321.8" stroke-width="0.9"/>
<line x1="1388" y1="325" x2="1409" y2="325" stroke-width="0.9"/>
<line x1="1388" y1="328.2" x2="1409" y2="328.2" stroke-width="0.9"/>
<line x1="1388" y1="331.4" x2="1409" y2="331.4" stroke-width="0.9"/>
<line x1="1388" y1="334.6" x2="1409" y2="334.6" stroke-width="0.9"/>
<line x1="1388" y1="337.8" x2="1409" y2="337.8" stroke-width="0.9"/>
<line x1="1388" y1="341" x2="1409" y2="341" stroke-width="0.9"/>
<path d="M1409,320 L1413,327 L1409,334" stroke-width="1.2"/>
<path d="M1388,576 H1413 V616.6 H1388 Q1385,616.6 1385,613.6 V579 Q1385,576 1388,576 Z" stroke-width="1.9"/>
<line x1="1409" y1="576" x2="1409" y2="616.6" stroke-width="1.5"/>
<line x1="1388" y1="580" x2="1409" y2="580" stroke-width="0.9"/>
<line x1="1388" y1="583.2" x2="1409" y2="583.2" stroke-width="0.9"/>
<line x1="1388" y1="586.4" x2="1409" y2="586.4" stroke-width="0.9"/>
<line x1="1388" y1="589.6" x2="1409" y2="589.6" stroke-width="0.9"/>
<line x1="1388" y1="592.8" x2="1409" y2="592.8" stroke-width="0.9"/>
<line x1="1388" y1="596" x2="1409" y2="596" stroke-width="0.9"/>
<line x1="1388" y1="599.2" x2="1409" y2="599.2" stroke-width="0.9"/>
<line x1="1388" y1="602.4" x2="1409" y2="602.4" stroke-width="0.9"/>
<line x1="1388" y1="605.6" x2="1409" y2="605.6" stroke-width="0.9"/>
<line x1="1388" y1="608.8" x2="1409" y2="608.8" stroke-width="0.9"/>
<line x1="1388" y1="612" x2="1409" y2="612" stroke-width="0.9"/>
<path d="M1409,591 L1413,598 L1409,605" stroke-width="1.2"/>
<path d="M1648.75,645 V275 L1656.25,266.9 H1695 L1703.5,274.4 V647" stroke-width="2.4"/>
<line x1="1657.5" y1="267" x2="1657.5" y2="655" stroke-width="1.9"/>
<line x1="1694.6" y1="267" x2="1694.6" y2="655" stroke-width="1.9"/>
<path d="M1704,290 H1708 Q1713,291 1713.5,297 Q1714,305 1720,307.5 H1728 Q1735,309 1735,318 V640 L1730.4,645 V658" stroke-width="2.4"/>
<line x1="1713.5" y1="297" x2="1713.5" y2="664" stroke-width="2"/>
<line x1="1704.2" y1="290" x2="1704.2" y2="657" stroke-width="1.9"/>
<path d="M1714,313.8 H1729 Q1732.5,313.8 1732.5,317.3 V350.3 Q1732.5,353.8 1729,353.8 H1714" stroke-width="1.9"/>
<line x1="1715" y1="317" x2="1730" y2="317" stroke-width="0.9"/>
<line x1="1715" y1="320.2" x2="1730" y2="320.2" stroke-width="0.9"/>
<line x1="1715" y1="323.4" x2="1730" y2="323.4" stroke-width="0.9"/>
<line x1="1715" y1="326.6" x2="1730" y2="326.6" stroke-width="0.9"/>
<line x1="1715" y1="329.8" x2="1730" y2="329.8" stroke-width="0.9"/>
<line x1="1715" y1="333" x2="1730" y2="333" stroke-width="0.9"/>
<line x1="1715" y1="336.2" x2="1730" y2="336.2" stroke-width="0.9"/>
<line x1="1715" y1="339.4" x2="1730" y2="339.4" stroke-width="0.9"/>
<line x1="1715" y1="342.6" x2="1730" y2="342.6" stroke-width="0.9"/>
<line x1="1715" y1="345.8" x2="1730" y2="345.8" stroke-width="0.9"/>
<line x1="1715" y1="349" x2="1730" y2="349" stroke-width="0.9"/>
<path d="M1714,568.8 H1729 Q1732.5,568.8 1732.5,572.3 V600.5 Q1732.5,604 1729,604 H1714" stroke-width="1.9"/>
<line x1="1715" y1="572" x2="1730" y2="572" stroke-width="0.9"/>
<line x1="1715" y1="575.2" x2="1730" y2="575.2" stroke-width="0.9"/>
<line x1="1715" y1="578.4" x2="1730" y2="578.4" stroke-width="0.9"/>
<line x1="1715" y1="581.6" x2="1730" y2="581.6" stroke-width="0.9"/>
<line x1="1715" y1="584.8" x2="1730" y2="584.8" stroke-width="0.9"/>
<line x1="1715" y1="588" x2="1730" y2="588" stroke-width="0.9"/>
<line x1="1715" y1="591.2" x2="1730" y2="591.2" stroke-width="0.9"/>
<line x1="1715" y1="594.4" x2="1730" y2="594.4" stroke-width="0.9"/>
<line x1="1715" y1="597.6" x2="1730" y2="597.6" stroke-width="0.9"/>
<line x1="1715" y1="600.8" x2="1730" y2="600.8" stroke-width="0.9"/>
<line x1="1698.75" y1="333.75" x2="1746.2" y2="333.75" stroke-width="1.1"/>
<line x1="1698.75" y1="588.3" x2="1746.2" y2="588.3" stroke-width="1.1"/>
<path d="M1410,659.7 H1482.7 V737.8 H1441.8" stroke-width="2.4"/>
<path d="M1441.8,659.7 V770.5 H1409 Q1405.7,770.5 1405.7,767 V663 Q1405.7,659.7 1409,659.7" stroke-width="2.4"/>
<path d="M1416,678 Q1416,671 1423.6,671 Q1431.3,671 1431.3,678 V753 Q1431.3,760 1423.6,760 Q1416,760 1416,753 Z" stroke-width="2.4"/>
<path d="M1441.8,661 Q1434,699 1441.8,737" stroke-width="1.6"/>
<circle cx="1464.5" cy="699.3" r="4.6" stroke-width="1.7"/>
<line x1="1464.5" y1="689" x2="1464.5" y2="709.5" stroke-width="1.1"/>
<circle cx="1497" cy="723.8" r="5.2" stroke-width="1.7"/>
<line x1="1482.7" y1="723.8" x2="1516.5" y2="723.8" stroke-width="1.1"/>
<line x1="1497" y1="711" x2="1497" y2="736" stroke-width="1.1"/>
<line x1="1395" y1="699.3" x2="1751" y2="699.3" stroke-width="1.4" stroke-dasharray="43 6 5 6"/>
<path d="M1481.5,737.8 V747 Q1481.5,757 1488,759 Q1494.2,761 1494.2,770 V857.5 C1494.5,864 1497,868 1502.8,873.7 C1503.3,876 1503.4,880 1503.4,885 V1057" stroke-width="2.4"/>
<path d="M1493,776.2 C1488,773 1476,768.5 1463.8,767.6 C1458,767.5 1454,772 1454,779.5 C1455,786 1462,798 1467,808.7 C1472,820 1475,830 1475.7,835.8 C1477,845 1477.5,855 1477.9,862.9 C1478.5,865 1480,866 1481.2,866.1 L1496.3,871 C1499,872 1501.5,874.5 1502.3,877" stroke-width="2.4"/>
<path d="M1493,782.7 C1489,779.5 1485,777 1481.2,775.2 C1475,773.5 1467,773 1461.7,773.5 C1459,774 1459.5,777 1460.6,778.4 C1464,787 1469,797 1472.5,806.6 C1477,820 1481,835 1483.3,846.6 L1485.5,855.3 C1486.5,857 1489,857 1493.6,857" stroke-width="2.4"/>
<path d="M1500.6,837.4 C1501,841 1503,843.4 1507,843.4 C1511,843.2 1514,843 1515.8,843.4 C1521,844.5 1526,848 1526.6,852 C1528,856 1528,860 1527.7,862.9 C1527,870 1518,874.5 1510.4,878.6" stroke-width="2.2"/>
<circle cx="1512.6" cy="858.6" r="4.9" stroke-width="1.9"/>
<line x1="1502.5" y1="858.6" x2="1523" y2="858.6" stroke-width="1.3"/>
<line x1="1512.6" y1="849" x2="1512.6" y2="868.5" stroke-width="1.3"/>
<circle cx="1538.6" cy="820.6" r="4.9" stroke-width="1.9"/>
<line x1="1531" y1="820.6" x2="1546" y2="820.6" stroke-width="1.3"/>
<line x1="1538.6" y1="812.5" x2="1538.6" y2="828.5" stroke-width="1.3"/>
<path d="M1647.6,645 Q1648,653 1656,654.5 H1695.2 L1703.9,647.3" stroke-width="2.4"/>
<line x1="1675.7" y1="655.5" x2="1675.7" y2="750.5" stroke-width="3.2"/>
<path d="M1675.7,750.3 H1700 Q1705,750 1705,744 V657" stroke-width="2.4"/>
<path d="M1706,664 H1730.4 V658 H1740.5 Q1745.6,658.5 1745.6,664 V735 Q1745.6,740 1740.5,740 H1706 Z" stroke-width="2.4"/>
<line x1="1731.5" y1="664.1" x2="1743.5" y2="664.1" stroke-width="1.1"/>
<line x1="1707" y1="667.2" x2="1743.5" y2="667.2" stroke-width="1.1"/>
<line x1="1707" y1="670.3" x2="1743.5" y2="670.3" stroke-width="1.1"/>
<line x1="1707" y1="673.4" x2="1743.5" y2="673.4" stroke-width="1.1"/>
<line x1="1707" y1="676.5" x2="1743.5" y2="676.5" stroke-width="1.1"/>
<line x1="1707" y1="679.6" x2="1743.5" y2="679.6" stroke-width="1.1"/>
<line x1="1707" y1="682.7" x2="1743.5" y2="682.7" stroke-width="1.1"/>
<line x1="1707" y1="685.8" x2="1743.5" y2="685.8" stroke-width="1.1"/>
<line x1="1707" y1="688.9" x2="1743.5" y2="688.9" stroke-width="1.1"/>
<line x1="1707" y1="692" x2="1743.5" y2="692" stroke-width="1.1"/>
<line x1="1707" y1="695.1" x2="1743.5" y2="695.1" stroke-width="1.1"/>
<line x1="1707" y1="698.2" x2="1743.5" y2="698.2" stroke-width="1.1"/>
<line x1="1707" y1="701.3" x2="1743.5" y2="701.3" stroke-width="1.1"/>
<line x1="1707" y1="704.4" x2="1743.5" y2="704.4" stroke-width="1.1"/>
<line x1="1707" y1="707.5" x2="1743.5" y2="707.5" stroke-width="1.1"/>
<line x1="1707" y1="710.6" x2="1743.5" y2="710.6" stroke-width="1.1"/>
<line x1="1707" y1="713.7" x2="1743.5" y2="713.7" stroke-width="1.1"/>
<line x1="1707" y1="716.8" x2="1743.5" y2="716.8" stroke-width="1.1"/>
<line x1="1707" y1="719.9" x2="1743.5" y2="719.9" stroke-width="1.1"/>
<line x1="1707" y1="723" x2="1743.5" y2="723" stroke-width="1.1"/>
<line x1="1707" y1="726.1" x2="1743.5" y2="726.1" stroke-width="1.1"/>
<line x1="1707" y1="729.2" x2="1743.5" y2="729.2" stroke-width="1.1"/>
<line x1="1707" y1="732.3" x2="1743.5" y2="732.3" stroke-width="1.1"/>
<line x1="1707" y1="735.4" x2="1743.5" y2="735.4" stroke-width="1.1"/>
<circle cx="1689.3" cy="723.1" r="6" stroke-width="1.8"/>
<line x1="1678" y1="723.1" x2="1700.5" y2="723.1" stroke-width="1.2"/>
<line x1="1689.3" y1="712" x2="1689.3" y2="734" stroke-width="1.2"/>
<circle cx="1718.5" cy="698.8" r="4.9" stroke-width="2" fill="#fff"/>
<line x1="1731" y1="698.8" x2="1741" y2="698.8" stroke-width="2.4"/>
<path d="M1676.2,750.5 C1672.4,752 1659.73,755.1 1653.4,759.5 C1647.07,763.9 1641.82,770.38 1638.2,776.9 C1634.58,783.42 1632.42,792.47 1631.7,798.6 C1630.98,804.73 1632.1,807.2 1633.9,813.7 C1635.7,820.2 1639.62,828.2 1642.5,837.6 C1645.38,847 1648.67,857.45 1651.2,870.1 C1653.73,882.75 1655.9,899.03 1657.7,913.5 C1659.5,927.97 1660.73,942.43 1662,956.9 C1663.27,971.37 1664.22,986.45 1665.3,1000.3 C1666.38,1014.15 1667.38,1027.05 1668.5,1040 C1669.62,1052.95 1671.42,1071.67 1672,1078 Q1672,1088 1665.9,1089.2 L1505,1103.2 C1503.5,1102.33 1498.38,1100.87 1496,1098 C1493.62,1095.13 1491.2,1090 1490.7,1086 C1490.2,1082 1491.45,1077.67 1493,1074 C1494.55,1070.33 1498.3,1066.83 1500,1064 C1501.7,1061.17 1502.67,1058.17 1503.2,1057" stroke-width="2.4"/>
<line x1="1508.5" y1="927.8" x2="1663.6" y2="914.6" stroke-width="1.35"/>
<path d="M1663.6,914.6 L1655.85,917.87 L1655.41,912.69 Z" fill="#111" stroke="none"/>
<path d="M1508.5,927.8 L1516.25,924.53 L1516.69,929.71 Z" fill="#111" stroke="none"/>
<text x="1586.5" y="918" font-size="13" text-anchor="middle" transform="rotate(-5 1586.5 918)" stroke="#111" stroke-width="0.3">K</text>
<line x1="1503.6" y1="949" x2="1508.5" y2="924" stroke-width="1.3"/>
<line x1="1659.7" y1="933.2" x2="1664.6" y2="911" stroke-width="1.3"/>
<line x1="1494.7" y1="954.8" x2="1669.5" y2="938.6" stroke-width="1.4" stroke-dasharray="40 6 6 6"/>
<path d="M1517.3,1105.9 L1520,1139.4 Q1524,1143.5 1528.6,1143.8 L1604.3,1136.2 Q1608.5,1134 1611.3,1130.8 L1608.6,1097.8" stroke-width="2.4"/>
<path d="M1520,1139.4 Q1530,1135 1541.6,1139 M1543.2,1138.4 Q1565,1145 1588,1134 M1588,1134 Q1600,1131 1611.3,1130.8" stroke-width="2"/>
<line x1="1540.5" y1="1106" x2="1543.2" y2="1138.4" stroke-width="2.2"/>
<line x1="1585.4" y1="1101" x2="1588" y2="1134" stroke-width="2.2"/>
<line x1="1517.3" y1="1105.9" x2="1608.6" y2="1097.8" stroke-width="2.6"/>
<line x1="1561" y1="1090.3" x2="1566.4" y2="1149.2" stroke-width="1.35" stroke-dasharray="14 5 4 5"/>
<line x1="1497.8" y1="1169.2" x2="1678.8" y2="1152.4" stroke-width="1.35"/>
<path d="M1678.8,1152.4 L1671.07,1155.73 L1670.59,1150.55 Z" fill="#111" stroke="none"/>
<path d="M1497.8,1169.2 L1505.53,1165.87 L1506.01,1171.05 Z" fill="#111" stroke="none"/>
<line x1="1493" y1="1108.6" x2="1497.8" y2="1172" stroke-width="1.3"/>
<line x1="1672.3" y1="1092.4" x2="1678.8" y2="1155.6" stroke-width="1.3"/>
<text x="1588" y="1156.5" font-size="13" text-anchor="middle" transform="rotate(-5 1588 1156.5)" stroke="#111" stroke-width="0.3">L</text>
</svg></body></html>
